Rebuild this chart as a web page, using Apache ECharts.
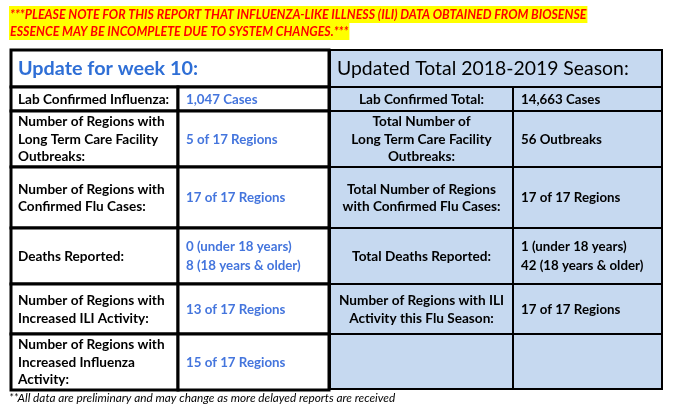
<!DOCTYPE html>
<html><head><meta charset="utf-8">
<script src="https://cdn.jsdelivr.net/npm/echarts@6/dist/echarts.min.js"></script>
<style>html,body{margin:0;padding:0;background:#fff}#c{width:674px;height:408px}</style>
</head><body><div id="c"></div>
<script>
// ---- content ----
const noteLines = [
  "***PLEASE NOTE FOR THIS REPORT THAT INFLUENZA-LIKE ILLNESS (ILI) DATA OBTAINED FROM BIOSENSE",
  "ESSENCE MAY BE INCOMPLETE DUE TO SYSTEM CHANGES.***"
];
const footnote = "**All data are preliminary and may change as more delayed reports are received";
const weekTitle = "Update for week 10:";
const seasonTitle = "Updated Total 2018-2019 Season:";
const weekLabels = [
  "Lab Confirmed Influenza:",
  "Number of Regions with\nLong Term Care Facility\nOutbreaks:",
  "Number of Regions with\nConfirmed Flu Cases:",
  "Deaths Reported:",
  "Number of Regions with\nIncreased ILI Activity:",
  "Number of Regions with\nIncreased Influenza\nActivity:"
];
const weekValues = [
  "1,047 Cases",
  "5 of 17 Regions",
  "17 of 17 Regions",
  "0 (under 18 years)\n8 (18 years & older)",
  "13 of 17 Regions",
  "15 of 17 Regions"
];
const seasonLabels = [
  "Lab Confirmed Total:",
  "Total Number of\nLong Term Care Facility\nOutbreaks:",
  "Total Number of Regions\nwith Confirmed Flu Cases:",
  "Total Deaths Reported:",
  "Number of Regions with ILI\nActivity this Flu Season:",
  ""
];
const seasonValues = [
  "14,663 Cases",
  "56 Outbreaks",
  "17 of 17 Regions",
  "1 (under 18 years)\n42 (18 years & older)",
  "17 of 17 Regions",
  ""
];

// ---- layout (separate from data) ----
const W = 674, H = 408;
const rowEdges = [50, 87, 111, 167, 228, 284, 334, 390];
const weekCols = [11, 178, 329];
const seasonCols = [330, 513, 662];
const FONT = "Lato, 'Liberation Sans', sans-serif";
const blueTitle = "#2f6fd6";
const blueVal = "#4475dd";
const seasonBg = "#c6d9f0";

const cells = [];
function addTable(cols, title, titleStyle, labels, values, bg, lw, labelAlign, valColor, bottomAdj) {
  cells.push({x0: cols[0], x1: cols[2], y0: rowEdges[0], y1: rowEdges[1], bg, lw,
    text: title, tx: cols[0] + 7, ta: 'left', font: titleStyle.font, color: titleStyle.color, lh: 22});
  labels.forEach((lab, i) => {
    const y1 = rowEdges[i + 2] - (i === labels.length - 1 ? bottomAdj : 0);
    cells.push({x0: cols[0], x1: cols[1], y0: rowEdges[i + 1], y1, bg, lw,
      text: lab, tx: labelAlign === 'center' ? (cols[0] + cols[1]) / 2 : cols[0] + 7, ta: labelAlign,
      font: "bold 13.6px " + FONT, color: "#000", lh: 17.5});
    cells.push({x0: cols[1], x1: cols[2], y0: rowEdges[i + 1], y1, bg, lw,
      text: values[i], tx: cols[1] + 8, ta: 'left',
      font: "bold 13.3px " + FONT, color: valColor, lh: 19});
  });
}
addTable(seasonCols, seasonTitle, {font: "19.4px " + FONT, color: "#000"}, seasonLabels, seasonValues, seasonBg, 2, 'center', "#000", 1);
addTable(weekCols, weekTitle, {font: "bold 19.8px " + FONT, color: blueTitle}, weekLabels, weekValues, "#fff", 3, 'left', blueVal, 0);

const chart = echarts.init(document.getElementById('c'), null, {renderer: 'canvas'});
chart.setOption({
  animation: false,
  grid: {left: 0, right: 0, top: 0, bottom: 0},
  xAxis: {type: 'value', min: 0, max: W, show: false},
  yAxis: {type: 'value', min: 0, max: H, inverse: true, show: false},
  series: [{
    type: 'custom',
    coordinateSystem: 'cartesian2d',
    data: cells.map(c => [c.x0, c.y0, c.x1, c.y1, c.tx]),
    renderItem: function (params, api) {
      const c = cells[params.dataIndex];
      const p0 = api.coord([api.value(0), api.value(1)]);
      const p1 = api.coord([api.value(2), api.value(3)]);
      const tx = api.coord([api.value(4), 0])[0];
      return {
        type: 'group',
        children: [
          {type: 'rect', shape: {x: p0[0], y: p0[1], width: p1[0] - p0[0], height: p1[1] - p0[1]},
           style: {fill: c.bg, stroke: '#000', lineWidth: c.lw}},
          {type: 'text', style: {text: c.text, x: tx, y: (p0[1] + p1[1]) / 2 + 0.5,
            align: c.ta, verticalAlign: 'middle', font: c.font, fill: c.color, lineHeight: c.lh}}
        ]
      };
    }
  }],
  graphic: [
    {type: 'text', left: 9, top: 6, style: {text: noteLines[0], font: "italic bold 12.4px " + FONT,
      fill: "#ff0000", backgroundColor: "#ffff00", padding: [1, 1, 1, 1], lineHeight: 15}},
    {type: 'text', left: 9, top: 23, style: {text: noteLines[1], font: "italic bold 12.4px " + FONT,
      fill: "#ff0000", backgroundColor: "#ffff00", padding: [1, 1, 1, 1], lineHeight: 15}},
    {type: 'text', left: 9, top: 392, style: {text: footnote, font: "italic 11.8px " + FONT, fill: "#000"}}
  ]
});
</script></body></html>
